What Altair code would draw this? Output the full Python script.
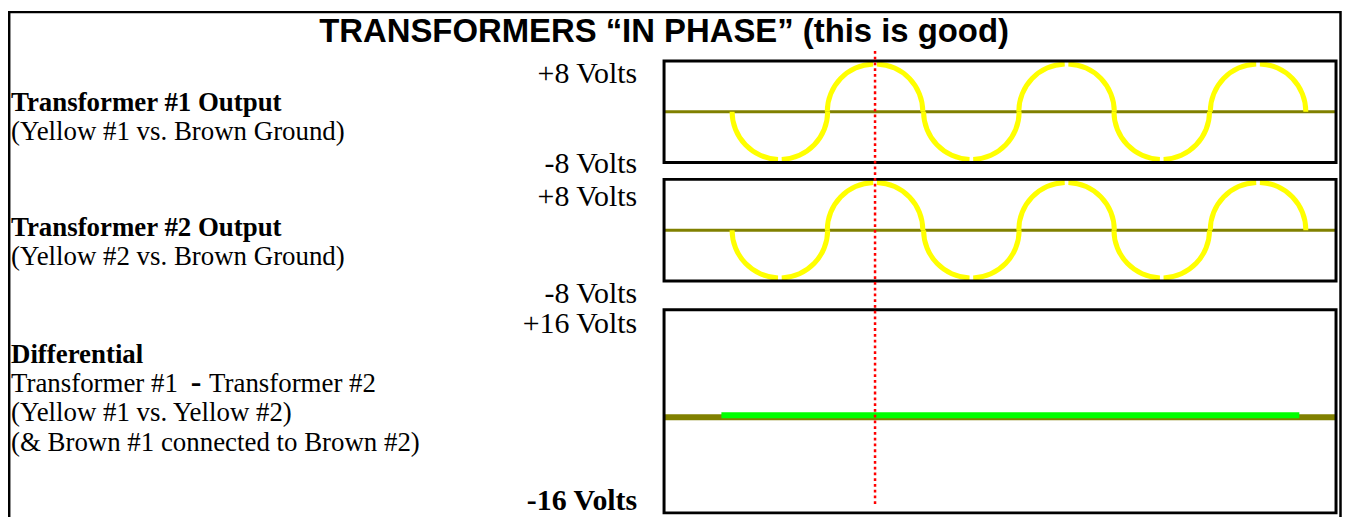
import math
import altair as alt
import pandas as pd

# ---------------- data ----------------
# times in milliseconds along the scope trace
extreme_times_ms = [10.1, 18.4, 26.8, 35.1, 43.4, 51.8]   # troughs / peaks of the yellow trace
extreme_volts = [-8, 8, -8, 8, -8, 8]                     # sign of each half-cycle
trace_window_ms = [0.0, 58.6]                             # scope window (box)
ground_span_ms = [0.0, 58.6]                              # brown ground line
diff_span_ms = [5.0, 55.4]                                # green differential line (0 V)
marker_time_ms = [18.4]                                   # red dotted marker
panel_volts = [8, 8, 16]                                  # +/- full scale of each panel

title_text = "TRANSFORMERS \u201cIN PHASE\u201d (this is good)"
panel_heads = ["Transformer #1 Output", "Transformer #2 Output", "Differential"]
panel_lines = [
    ["(Yellow #1 vs. Brown Ground)"],
    ["(Yellow #2 vs. Brown Ground)"],
    ["", "(Yellow #1 vs. Yellow #2)", "(& Brown #1 connected to Brown #2)"],
]
diff_formula = ["Transformer #1", "-", "Transformer #2"]
top_labels = ["+8 Volts", "+8 Volts", "+16 Volts"]
bottom_labels = ["-8 Volts", "-8 Volts", "-16 Volts"]

# ---------------- layout (pixels inside the view) ----------------
W, H = 1340, 509
X_RANGE = [659, 1334]
Y_RANGES = [[154, 52], [273, 171], [518, 302]]
SERIF = "Liberation Serif"
FS = 27      # left-hand descriptions
FS_V = 30    # volt labels
YELLOW, OLIVE, GREEN, RED = "#ffff00", "#808000", "#00ff00", "#ff0000"

xscale = alt.Scale(domain=trace_window_ms, range=X_RANGE, nice=False, zero=False)


def X(field):
    return alt.X(field, type="quantitative", scale=xscale, axis=None)


def arcs_frame():
    gap = math.radians(2.2)
    rows = []
    for t, v in zip(extreme_times_ms, extreme_volts):
        if v > 0:
            rows.append({"t": t, "v": 0, "a0": 1.5 * math.pi, "a1": 2 * math.pi - gap})
            rows.append({"t": t, "v": 0, "a0": gap, "a1": 0.5 * math.pi})
        else:
            rows.append({"t": t, "v": 0, "a0": 0.5 * math.pi, "a1": math.pi - gap})
            rows.append({"t": t, "v": 0, "a0": math.pi + gap, "a1": 1.5 * math.pi})
    return pd.DataFrame(rows)


def panel(i):
    full = panel_volts[i]
    ysc = alt.Scale(domain=[-full, full], range=Y_RANGES[i], nice=False, zero=False)

    def Y(field):
        return alt.Y(field, type="quantitative", scale=ysc, axis=None)

    box_df = pd.DataFrame({"t0": [trace_window_ms[0]], "t1": [trace_window_ms[1]],
                           "top": [full], "bot": [-full]})
    box_enc = dict(x=X("t0"), x2=alt.X2("t1"), y=Y("top"))
    if i == 2:
        box_enc["y2"] = alt.value(506)
    else:
        box_enc["y2"] = alt.Y2("bot")
    box = alt.Chart(box_df).mark_rect(
        fill="white", fillOpacity=0, stroke="black", strokeWidth=3
    ).encode(**box_enc)

    gnd_df = pd.DataFrame({"t0": [ground_span_ms[0]], "t1": [ground_span_ms[1]], "v": [0]})
    if i < 2:
        ground = alt.Chart(gnd_df).mark_rule(color=OLIVE, strokeWidth=3).encode(
            x=X("t0"), x2=alt.X2("t1"), y=Y("v"))
        arcs = alt.Chart(arcs_frame()).mark_arc(color=YELLOW).encode(
            x=X("t"), y=Y("v"),
            theta=alt.Theta("a0:Q", scale=None, stack=False),
            theta2=alt.Theta2("a1:Q"),
            radius=alt.value(50.5), radius2=alt.value(45.5),
        )
        return alt.layer(ground, arcs, box)
    ground = alt.Chart(gnd_df).mark_rule(color=OLIVE, strokeWidth=6).encode(
        x=X("t0"), x2=alt.X2("t1"), y=Y("v"))
    diff_df = pd.DataFrame({"t0": [diff_span_ms[0]], "t1": [diff_span_ms[1]], "v": [0]})
    diff = alt.Chart(diff_df).mark_rule(color=GREEN, strokeWidth=6, yOffset=-2).encode(
        x=X("t0"), x2=alt.X2("t1"), y=Y("v"))
    return alt.layer(ground, diff, box)


def text_layer(txt, x, y, align="left", weight="normal", size=FS, font=SERIF):
    return alt.Chart(pd.DataFrame({"s": [txt]})).mark_text(
        align=align, baseline="alphabetic", font=font, fontSize=size,
        fontWeight=weight, color="black"
    ).encode(text="s:N", x=alt.value(x), y=alt.value(y))


layers = []

# outer frame
frame = alt.Chart(pd.DataFrame({"a": [0]})).mark_rect(
    fill="white", fillOpacity=0, stroke="black", strokeWidth=2.5
).encode(x=alt.value(1.2), x2=alt.value(1338.5), y=alt.value(3), y2=alt.value(540))
layers.append(frame)

for i in range(3):
    layers.append(panel(i))

# red dotted marker
marker = alt.Chart(pd.DataFrame({"t": marker_time_ms})).mark_rule(
    color=RED, strokeWidth=2.5, strokeDash=[2.8, 3.0]
).encode(x=X("t"), y=alt.value(42), y2=alt.value(500))
layers.append(marker)

# texts
layers.append(text_layer(title_text, 659, 33, align="center", weight="bold",
                         size=33, font="Liberation Sans"))
LX = 3
head_y = [102, 228, 355]
line_step = 29.5
vt_y = [74, 198, 325]
vb_y = [165, 295, 503]
for i in range(3):
    layers.append(text_layer(panel_heads[i], LX, head_y[i], weight="bold"))
    for k, line in enumerate(panel_lines[i]):
        if line:
            layers.append(text_layer(line, LX, head_y[i] + line_step * (k + 1)))
    layers.append(text_layer(top_labels[i], 632, vt_y[i], align="right", size=FS_V))
    layers.append(text_layer(bottom_labels[i], 632, vb_y[i], align="right", size=FS_V,
                             weight="bold" if i == 2 else "normal"))

# "Transformer #1 - Transformer #2" with a bold dash
fy = head_y[2] + line_step
layers.append(text_layer(diff_formula[0], LX, fy))
layers.append(text_layer(diff_formula[1], LX + 186, fy, align="center", weight="bold",
                         size=32))
layers.append(text_layer(diff_formula[2], LX + 199, fy))

chart = alt.layer(*layers).resolve_scale(y="independent").properties(
    width=W, height=H, padding=0, autosize="none"
).configure_view(stroke=None)

chart.save("out.html", embed_options={"renderer": "svg", "actions": False})
